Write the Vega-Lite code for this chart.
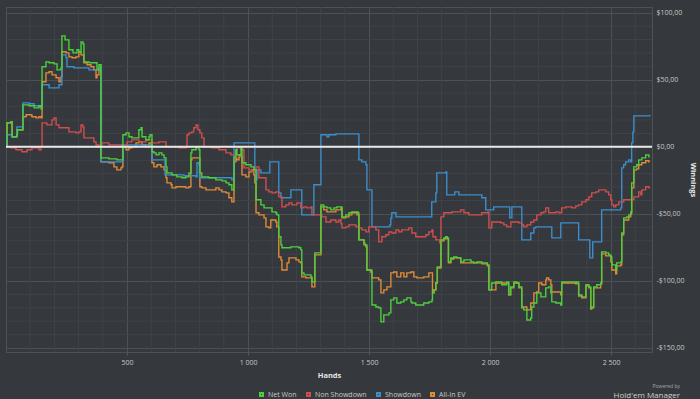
{
"$schema": "https://vega.github.io/schema/vega-lite/v6.json",
"width": 646, "height": 345,
"autosize": "none",
"padding": {"left": 6, "top": 7, "right": 48, "bottom": 47},
"background": "#35383c",
"config": {"view": {"stroke": "#4e5256", "fill": "#35383c"}, "font": "Open Sans", "axis": {"labelOverlap": false}},
"title": {"text": "Powered by", "subtitle": "Hold'em Manager", "orient": "bottom", "anchor": "end", "frame": "group", "fontSize": 5, "fontWeight": "normal", "color": "#a8a8a8", "subtitleFontSize": 8, "subtitleColor": "#d0d0d0", "subtitlePadding": 3, "dx": 28, "offset": 4, "dy": -20},
"datasets": {
"gx": [{"g":100},{"g":200},{"g":300},{"g":400},{"g":600},{"g":700},{"g":800},{"g":900},{"g":1100},{"g":1200},{"g":1300},{"g":1400},{"g":1600},{"g":1700},{"g":1800},{"g":1900},{"g":2100},{"g":2200},{"g":2300},{"g":2400},{"g":2600}],
"gy": [{"g":-140},{"g":-130},{"g":-120},{"g":-110},{"g":-90},{"g":-80},{"g":-70},{"g":-60},{"g":-40},{"g":-30},{"g":-20},{"g":-10},{"g":10},{"g":20},{"g":30},{"g":40},{"g":60},{"g":70},{"g":80},{"g":90}],
"aiev": [{"h":0,"v":0},{"h":4,"v":17.9},{"h":21,"v":18.7},{"h":25,"v":7.5},{"h":45,"v":9.0},{"h":47,"v":12.7},{"h":66,"v":12.7},{"h":70,"v":22.4},{"h":83,"v":23.9},{"h":107,"v":22.4},{"h":124,"v":21.6},{"h":136,"v":22.4},{"h":145,"v":21.6},{"h":149,"v":48.5},{"h":165,"v":55.2},{"h":178,"v":56.0},{"h":190,"v":53.7},{"h":207,"v":51.5},{"h":219,"v":48.5},{"h":227,"v":52.2},{"h":231,"v":70.9},{"h":248,"v":70.1},{"h":260,"v":67.1},{"h":273,"v":66.4},{"h":289,"v":67.1},{"h":301,"v":70.9},{"h":310,"v":68.6},{"h":322,"v":62.7},{"h":335,"v":61.2},{"h":351,"v":59.7},{"h":363,"v":57.4},{"h":372,"v":51.5},{"h":376,"v":53.7},{"h":384,"v":57.4},{"h":390,"v":59.7},{"h":392,"v":-11.2},{"h":425,"v":-11.9},{"h":446,"v":-14.9},{"h":458,"v":-17.2},{"h":475,"v":-15.7},{"h":479,"v":-14.9},{"h":483,"v":0},{"h":496,"v":-2.2},{"h":508,"v":-0.7},{"h":520,"v":0},{"h":537,"v":3.0},{"h":549,"v":3.7},{"h":562,"v":1.5},{"h":578,"v":0},{"h":591,"v":3.0},{"h":599,"v":1.5},{"h":603,"v":-11.9},{"h":611,"v":-14.9},{"h":624,"v":-13.4},{"h":640,"v":-14.9},{"h":653,"v":-17.2},{"h":661,"v":-23.1},{"h":665,"v":-26.9},{"h":682,"v":-28.3},{"h":686,"v":-30.6},{"h":702,"v":-29.8},{"h":743,"v":-30.6},{"h":756,"v":-29.8},{"h":764,"v":-9.7},{"h":768,"v":-8.2},{"h":801,"v":-29.8},{"h":809,"v":-30.6},{"h":826,"v":-32.1},{"h":867,"v":-30.6},{"h":880,"v":-32.1},{"h":892,"v":-33.6},{"h":909,"v":-34.3},{"h":921,"v":-38.0},{"h":933,"v":-41.0},{"h":942,"v":-11.2},{"h":950,"v":-8.2},{"h":954,"v":-9.7},{"h":963,"v":-6.0},{"h":971,"v":-7.5},{"h":975,"v":-20.9},{"h":991,"v":-22.4},{"h":1004,"v":-18.7},{"h":1016,"v":-17.2},{"h":1024,"v":-20.9},{"h":1028,"v":-26.9},{"h":1033,"v":-49.2},{"h":1045,"v":-50.7},{"h":1066,"v":-53.0},{"h":1074,"v":-59.7},{"h":1086,"v":-60.4},{"h":1094,"v":-54.5},{"h":1115,"v":-56.0},{"h":1119,"v":-59.7},{"h":1127,"v":-82.1},{"h":1136,"v":-84.3},{"h":1140,"v":-91.8},{"h":1161,"v":-86.5},{"h":1169,"v":-82.8},{"h":1198,"v":-84.3},{"h":1210,"v":-85.8},{"h":1218,"v":-86.5},{"h":1222,"v":-97.0},{"h":1239,"v":-97.7},{"h":1264,"v":-104.4},{"h":1276,"v":-80.6},{"h":1301,"v":-44.8},{"h":1313,"v":-47.0},{"h":1326,"v":-48.5},{"h":1363,"v":-47.0},{"h":1384,"v":-45.5},{"h":1388,"v":-53.0},{"h":1404,"v":-52.2},{"h":1417,"v":-50.7},{"h":1429,"v":-49.2},{"h":1450,"v":-50.7},{"h":1458,"v":-69.4},{"h":1479,"v":-73.1},{"h":1487,"v":-74.6},{"h":1491,"v":-91.8},{"h":1507,"v":-93.3},{"h":1512,"v":-97.7},{"h":1540,"v":-99.2},{"h":1549,"v":-108.9},{"h":1561,"v":-106.7},{"h":1574,"v":-104.4},{"h":1590,"v":-94.0},{"h":1602,"v":-93.3},{"h":1615,"v":-97.0},{"h":1631,"v":-94.0},{"h":1644,"v":-97.0},{"h":1656,"v":-94.0},{"h":1673,"v":-93.3},{"h":1685,"v":-97.0},{"h":1698,"v":-97.7},{"h":1726,"v":-97.0},{"h":1747,"v":-94.0},{"h":1762,"v":-108.9},{"h":1768,"v":-106.7},{"h":1776,"v":-101.5},{"h":1782,"v":-90.3},{"h":1797,"v":-70.1},{"h":1809,"v":-68.6},{"h":1817,"v":-67.9},{"h":1823,"v":-68.6},{"h":1828,"v":-86.5},{"h":1838,"v":-83.6},{"h":1850,"v":-82.8},{"h":1879,"v":-86.5},{"h":1966,"v":-87.3},{"h":1989,"v":-88.8},{"h":1995,"v":-106.7},{"h":2024,"v":-101.5},{"h":2077,"v":-110.4},{"h":2085,"v":-105.2},{"h":2098,"v":-101.5},{"h":2119,"v":-105.2},{"h":2131,"v":-119.4},{"h":2152,"v":-121.6},{"h":2168,"v":-116.4},{"h":2181,"v":-108.9},{"h":2193,"v":-108.2},{"h":2201,"v":-101.5},{"h":2214,"v":-102.9},{"h":2230,"v":-99.2},{"h":2234,"v":-97.7},{"h":2242,"v":-99.2},{"h":2251,"v":-102.9},{"h":2255,"v":-108.2},{"h":2292,"v":-110.4},{"h":2296,"v":-101.5},{"h":2354,"v":-102.2},{"h":2366,"v":-111.2},{"h":2379,"v":-112.6},{"h":2396,"v":-103.7},{"h":2408,"v":-105.2},{"h":2416,"v":-120.9},{"h":2420,"v":-120.1},{"h":2428,"v":-105.2},{"h":2457,"v":-102.2},{"h":2461,"v":-79.8},{"h":2478,"v":-81.3},{"h":2499,"v":-85.8},{"h":2503,"v":-91.8},{"h":2519,"v":-94.7},{"h":2523,"v":-88.8},{"h":2540,"v":-88.0},{"h":2544,"v":-65.6},{"h":2552,"v":-54.5},{"h":2573,"v":-52.2},{"h":2581,"v":-50.0},{"h":2585,"v":-30.6},{"h":2594,"v":-17.2},{"h":2606,"v":-16.4},{"h":2614,"v":-13.4},{"h":2627,"v":-11.9},{"h":2643,"v":-10.4},{"h":2656,"v":-11.2},{"h":2660,"v":-11.2}],
"sd": [{"h":0,"v":0},{"h":4,"v":9.0},{"h":25,"v":7.5},{"h":45,"v":14.9},{"h":70,"v":32.8},{"h":95,"v":32.1},{"h":116,"v":30.6},{"h":136,"v":29.8},{"h":149,"v":46.3},{"h":178,"v":44.0},{"h":219,"v":46.3},{"h":231,"v":68.6},{"h":248,"v":66.4},{"h":252,"v":59.7},{"h":281,"v":58.9},{"h":343,"v":57.4},{"h":384,"v":58.9},{"h":390,"v":61.2},{"h":392,"v":-11.2},{"h":483,"v":1.5},{"h":603,"v":-9.7},{"h":657,"v":-20.9},{"h":735,"v":-21.6},{"h":785,"v":-22.4},{"h":789,"v":-11.9},{"h":797,"v":-13.4},{"h":799,"v":-23.1},{"h":933,"v":-24.6},{"h":942,"v":3.0},{"h":1028,"v":-17.2},{"h":1033,"v":-24.6},{"h":1037,"v":-17.2},{"h":1053,"v":-19.4},{"h":1090,"v":-11.2},{"h":1127,"v":-34.3},{"h":1136,"v":-38.0},{"h":1177,"v":-32.1},{"h":1222,"v":-50.7},{"h":1272,"v":-28.3},{"h":1301,"v":9.0},{"h":1326,"v":7.5},{"h":1334,"v":9.0},{"h":1363,"v":9.7},{"h":1458,"v":-9.7},{"h":1470,"v":-11.2},{"h":1487,"v":-13.4},{"h":1491,"v":-32.1},{"h":1512,"v":-59.7},{"h":1586,"v":-58.2},{"h":1590,"v":-53.0},{"h":1594,"v":-49.2},{"h":1611,"v":-52.2},{"h":1759,"v":-41.0},{"h":1776,"v":-34.3},{"h":1780,"v":-19.4},{"h":1817,"v":-18.7},{"h":1821,"v":-35.8},{"h":1854,"v":-33.6},{"h":1871,"v":-35.8},{"h":1966,"v":-38.0},{"h":1982,"v":-47.0},{"h":2015,"v":-44.8},{"h":2081,"v":-53.0},{"h":2090,"v":-44.8},{"h":2131,"v":-69.4},{"h":2168,"v":-64.2},{"h":2181,"v":-60.4},{"h":2189,"v":-59.7},{"h":2255,"v":-67.9},{"h":2292,"v":-56.7},{"h":2366,"v":-69.4},{"h":2412,"v":-82.8},{"h":2424,"v":-70.9},{"h":2461,"v":-47.0},{"h":2540,"v":-45.5},{"h":2544,"v":-15.7},{"h":2552,"v":-13.4},{"h":2560,"v":-11.2},{"h":2573,"v":-9.7},{"h":2581,"v":-11.2},{"h":2585,"v":3.0},{"h":2590,"v":11.2},{"h":2594,"v":23.1},{"h":2660,"v":23.9}],
"nsd": [{"h":0,"v":0},{"h":21,"v":-0.7},{"h":41,"v":-2.2},{"h":66,"v":-3.7},{"h":87,"v":-2.2},{"h":107,"v":-0.7},{"h":136,"v":-2.2},{"h":145,"v":0},{"h":149,"v":17.9},{"h":169,"v":16.4},{"h":190,"v":20.1},{"h":198,"v":21.6},{"h":207,"v":16.4},{"h":219,"v":14.2},{"h":260,"v":11.2},{"h":289,"v":10.4},{"h":301,"v":11.2},{"h":310,"v":16.4},{"h":318,"v":14.9},{"h":322,"v":6.7},{"h":363,"v":3.7},{"h":372,"v":1.5},{"h":384,"v":0},{"h":396,"v":3.0},{"h":425,"v":1.5},{"h":479,"v":0},{"h":500,"v":3.7},{"h":520,"v":5.2},{"h":549,"v":3.7},{"h":578,"v":5.2},{"h":603,"v":3.0},{"h":632,"v":3.7},{"h":661,"v":0},{"h":714,"v":-0.7},{"h":743,"v":0},{"h":748,"v":9.0},{"h":756,"v":10.4},{"h":768,"v":11.2},{"h":776,"v":14.2},{"h":785,"v":16.4},{"h":793,"v":12.7},{"h":801,"v":10.4},{"h":809,"v":6.7},{"h":818,"v":0},{"h":851,"v":-0.7},{"h":880,"v":-2.2},{"h":909,"v":-4.5},{"h":929,"v":-6.0},{"h":950,"v":-2.2},{"h":954,"v":0},{"h":963,"v":-0.7},{"h":971,"v":-2.2},{"h":983,"v":-15.7},{"h":1004,"v":-17.2},{"h":1016,"v":-18.7},{"h":1033,"v":-14.9},{"h":1045,"v":-23.1},{"h":1074,"v":-32.1},{"h":1086,"v":-33.6},{"h":1099,"v":-34.3},{"h":1115,"v":-33.6},{"h":1127,"v":-37.3},{"h":1140,"v":-44.8},{"h":1156,"v":-43.3},{"h":1169,"v":-41.8},{"h":1181,"v":-43.3},{"h":1202,"v":-41.8},{"h":1218,"v":-45.5},{"h":1231,"v":-44.8},{"h":1243,"v":-45.5},{"h":1260,"v":-44.8},{"h":1264,"v":-50.7},{"h":1305,"v":-52.2},{"h":1322,"v":-56.0},{"h":1342,"v":-54.5},{"h":1363,"v":-56.0},{"h":1375,"v":-54.5},{"h":1384,"v":-57.4},{"h":1388,"v":-60.4},{"h":1404,"v":-59.7},{"h":1417,"v":-58.2},{"h":1446,"v":-59.7},{"h":1458,"v":-60.4},{"h":1470,"v":-61.9},{"h":1487,"v":-63.4},{"h":1499,"v":-59.7},{"h":1528,"v":-61.9},{"h":1540,"v":-70.9},{"h":1553,"v":-67.1},{"h":1569,"v":-65.6},{"h":1582,"v":-63.4},{"h":1594,"v":-64.2},{"h":1611,"v":-61.9},{"h":1623,"v":-63.4},{"h":1635,"v":-61.9},{"h":1664,"v":-60.4},{"h":1677,"v":-64.2},{"h":1693,"v":-67.1},{"h":1735,"v":-65.6},{"h":1747,"v":-63.4},{"h":1760,"v":-61.9},{"h":1764,"v":-67.1},{"h":1776,"v":-69.4},{"h":1792,"v":-71.6},{"h":1797,"v":-52.2},{"h":1809,"v":-49.2},{"h":1842,"v":-48.5},{"h":1879,"v":-47.0},{"h":1892,"v":-49.2},{"h":1912,"v":-50.7},{"h":1966,"v":-49.2},{"h":1991,"v":-48.5},{"h":1995,"v":-60.4},{"h":2007,"v":-56.0},{"h":2044,"v":-56.7},{"h":2057,"v":-58.2},{"h":2069,"v":-59.7},{"h":2086,"v":-56.0},{"h":2119,"v":-56.7},{"h":2131,"v":-58.2},{"h":2139,"v":-59.7},{"h":2152,"v":-58.2},{"h":2168,"v":-56.0},{"h":2181,"v":-54.5},{"h":2193,"v":-50.7},{"h":2210,"v":-49.2},{"h":2222,"v":-48.5},{"h":2230,"v":-45.5},{"h":2242,"v":-49.2},{"h":2272,"v":-48.5},{"h":2284,"v":-49.2},{"h":2296,"v":-45.5},{"h":2313,"v":-44.8},{"h":2338,"v":-45.5},{"h":2354,"v":-44.0},{"h":2366,"v":-43.3},{"h":2379,"v":-41.0},{"h":2396,"v":-39.5},{"h":2408,"v":-37.3},{"h":2420,"v":-34.3},{"h":2437,"v":-33.6},{"h":2449,"v":-32.1},{"h":2478,"v":-33.6},{"h":2490,"v":-35.8},{"h":2499,"v":-39.5},{"h":2503,"v":-43.3},{"h":2511,"v":-44.8},{"h":2519,"v":-43.3},{"h":2532,"v":-41.0},{"h":2552,"v":-39.5},{"h":2594,"v":-37.3},{"h":2614,"v":-33.6},{"h":2623,"v":-35.8},{"h":2627,"v":-32.1},{"h":2643,"v":-29.8},{"h":2656,"v":-30.6},{"h":2660,"v":-30.6}],
"nw": [{"h":0,"v":0},{"h":4,"v":17.9},{"h":21,"v":18.7},{"h":25,"v":7.5},{"h":45,"v":9.0},{"h":47,"v":12.7},{"h":66,"v":12.7},{"h":70,"v":31.3},{"h":95,"v":30.6},{"h":116,"v":29.1},{"h":136,"v":30.6},{"h":145,"v":28.3},{"h":149,"v":59.7},{"h":165,"v":63.4},{"h":178,"v":62.7},{"h":198,"v":61.9},{"h":211,"v":57.4},{"h":227,"v":58.9},{"h":231,"v":82.8},{"h":244,"v":79.8},{"h":260,"v":72.4},{"h":277,"v":70.1},{"h":293,"v":72.4},{"h":301,"v":70.9},{"h":310,"v":78.3},{"h":318,"v":76.8},{"h":322,"v":63.4},{"h":343,"v":62.7},{"h":376,"v":57.4},{"h":384,"v":61.2},{"h":392,"v":-8.2},{"h":425,"v":-9.0},{"h":458,"v":-9.7},{"h":483,"v":9.0},{"h":496,"v":10.4},{"h":508,"v":7.5},{"h":520,"v":6.7},{"h":549,"v":12.7},{"h":558,"v":14.2},{"h":562,"v":7.5},{"h":578,"v":5.2},{"h":591,"v":7.5},{"h":595,"v":9.0},{"h":603,"v":-3.7},{"h":611,"v":-4.5},{"h":620,"v":-6.0},{"h":632,"v":-4.5},{"h":644,"v":-6.0},{"h":653,"v":-8.2},{"h":661,"v":-14.9},{"h":665,"v":-19.4},{"h":686,"v":-20.9},{"h":706,"v":-22.4},{"h":727,"v":-23.1},{"h":743,"v":-22.4},{"h":756,"v":-19.4},{"h":764,"v":-4.5},{"h":768,"v":-2.2},{"h":785,"v":-0.7},{"h":789,"v":0},{"h":797,"v":-2.2},{"h":801,"v":-19.4},{"h":809,"v":-22.4},{"h":838,"v":-23.1},{"h":867,"v":-24.6},{"h":892,"v":-25.4},{"h":909,"v":-26.9},{"h":921,"v":-28.3},{"h":933,"v":-32.1},{"h":942,"v":-7.5},{"h":950,"v":-2.2},{"h":954,"v":-6.0},{"h":971,"v":-0.7},{"h":975,"v":-11.9},{"h":991,"v":-13.4},{"h":1012,"v":-14.9},{"h":1024,"v":-17.2},{"h":1033,"v":-39.5},{"h":1053,"v":-43.3},{"h":1066,"v":-45.5},{"h":1099,"v":-48.5},{"h":1115,"v":-49.2},{"h":1119,"v":-50.7},{"h":1127,"v":-67.1},{"h":1136,"v":-73.1},{"h":1140,"v":-75.3},{"h":1177,"v":-74.6},{"h":1210,"v":-75.3},{"h":1218,"v":-76.8},{"h":1222,"v":-94.0},{"h":1231,"v":-95.5},{"h":1260,"v":-97.0},{"h":1264,"v":-100.7},{"h":1276,"v":-79.1},{"h":1301,"v":-43.3},{"h":1313,"v":-44.8},{"h":1326,"v":-45.5},{"h":1342,"v":-47.0},{"h":1355,"v":-45.5},{"h":1367,"v":-44.8},{"h":1388,"v":-52.2},{"h":1404,"v":-50.7},{"h":1417,"v":-49.2},{"h":1429,"v":-48.5},{"h":1454,"v":-49.2},{"h":1458,"v":-69.4},{"h":1479,"v":-71.6},{"h":1483,"v":-73.1},{"h":1491,"v":-91.8},{"h":1512,"v":-117.9},{"h":1528,"v":-119.4},{"h":1540,"v":-120.1},{"h":1549,"v":-130.5},{"h":1561,"v":-125.3},{"h":1582,"v":-123.8},{"h":1590,"v":-114.1},{"h":1602,"v":-112.6},{"h":1615,"v":-116.4},{"h":1631,"v":-115.6},{"h":1644,"v":-114.1},{"h":1656,"v":-112.6},{"h":1673,"v":-115.6},{"h":1677,"v":-116.4},{"h":1693,"v":-117.9},{"h":1726,"v":-116.4},{"h":1747,"v":-115.6},{"h":1760,"v":-114.1},{"h":1762,"v":-108.9},{"h":1768,"v":-106.7},{"h":1776,"v":-101.5},{"h":1782,"v":-89.5},{"h":1797,"v":-69.4},{"h":1809,"v":-67.9},{"h":1817,"v":-67.1},{"h":1823,"v":-67.9},{"h":1828,"v":-85.8},{"h":1838,"v":-82.8},{"h":1850,"v":-82.1},{"h":1863,"v":-82.8},{"h":1879,"v":-85.8},{"h":1892,"v":-84.3},{"h":1921,"v":-85.8},{"h":1933,"v":-86.5},{"h":1945,"v":-85.8},{"h":1966,"v":-86.5},{"h":1989,"v":-88.0},{"h":1995,"v":-106.7},{"h":2007,"v":-101.5},{"h":2024,"v":-100.7},{"h":2048,"v":-102.9},{"h":2069,"v":-100.7},{"h":2077,"v":-110.4},{"h":2085,"v":-104.4},{"h":2098,"v":-100.7},{"h":2110,"v":-101.5},{"h":2119,"v":-104.4},{"h":2131,"v":-120.1},{"h":2139,"v":-121.6},{"h":2152,"v":-129.1},{"h":2168,"v":-127.6},{"h":2172,"v":-119.4},{"h":2181,"v":-116.4},{"h":2193,"v":-108.9},{"h":2210,"v":-111.9},{"h":2230,"v":-105.2},{"h":2242,"v":-104.4},{"h":2251,"v":-108.9},{"h":2255,"v":-115.6},{"h":2272,"v":-116.4},{"h":2292,"v":-117.9},{"h":2296,"v":-100.7},{"h":2354,"v":-101.5},{"h":2358,"v":-100.7},{"h":2366,"v":-110.4},{"h":2379,"v":-111.9},{"h":2396,"v":-102.9},{"h":2408,"v":-104.4},{"h":2416,"v":-120.1},{"h":2420,"v":-119.4},{"h":2428,"v":-104.4},{"h":2441,"v":-102.9},{"h":2457,"v":-101.5},{"h":2461,"v":-78.3},{"h":2478,"v":-79.1},{"h":2490,"v":-80.6},{"h":2499,"v":-82.1},{"h":2503,"v":-88.0},{"h":2519,"v":-91.8},{"h":2523,"v":-86.5},{"h":2540,"v":-85.8},{"h":2544,"v":-64.2},{"h":2552,"v":-53.0},{"h":2565,"v":-52.2},{"h":2573,"v":-50.7},{"h":2581,"v":-48.5},{"h":2585,"v":-26.9},{"h":2594,"v":-14.9},{"h":2606,"v":-13.4},{"h":2614,"v":-9.7},{"h":2627,"v":-8.2},{"h":2643,"v":-6.0},{"h":2656,"v":-7.5},{"h":2660,"v":-7.5}]
},
"layer": [
{"data": {"name": "gx"}, "mark": {"type": "rule", "color": "#3f4347", "strokeWidth": 1},
 "encoding": {"x": {"field": "g", "type": "quantitative", "scale": {"domain": [0, 2669], "nice": false, "zero": false},
    "axis": {"values": [500, 1000, 1500, 2000, 2500],
      "labelExpr": "replace(format(datum.value, ','), ',', ' ')",
      "grid": true, "gridColor": "#4d5155",
      "domain": false, "ticks": true, "tickColor": "#55595d", "tickSize": 3,
      "labelColor": "#c8c8c8", "labelFontSize": 7, "labelPadding": 3, "labelFlush": false,
      "title": "Hands", "titleColor": "#e6e6e6", "titleFontSize": 7.5, "titleFontWeight": "bold", "titlePadding": 6}}}},
{"data": {"name": "gy"}, "mark": {"type": "rule", "color": "#3f4347", "strokeWidth": 1},
 "encoding": {"y": {"field": "g", "type": "quantitative", "scale": {"domain": [-153, 104.3], "nice": false, "zero": false},
    "axis": {"orient": "right", "values": [-150, -100, -50, 0, 50, 100],
      "labelExpr": "(datum.value < 0 ? '-$' : '$') + replace(format(abs(datum.value), '.2f'), '.', ',')",
      "grid": true, "gridColor": "#4d5155",
      "domain": false, "ticks": false, "labelColor": "#c8c8c8", "labelFontSize": 7, "labelPadding": 4, "labelFlush": false,
      "title": "Winnings", "titleColor": "#e6e6e6", "titleFontSize": 7.5, "titleFontWeight": "bold", "titlePadding": 4}}}},
{"data": {"name": "aiev"}, "mark": {"type": "line", "interpolate": "step-after", "strokeWidth": 1.4},
 "encoding": {
  "x": {"field": "h", "type": "quantitative", "scale": {"domain": [0, 2669], "nice": false, "zero": false}},
  "y": {"field": "v", "type": "quantitative", "scale": {"domain": [-153, 104.3], "nice": false, "zero": false}},
  "color": {"datum": "All-In EV", "type": "nominal",
    "scale": {"domain": ["Net Won", "Non Showdown", "Showdown", "All-In EV"], "range": ["#4ccf3c", "#cf4f4f", "#3b8dcc", "#e08a37"]},
    "legend": {"orient": "none", "legendX": 252, "legendY": 384, "direction": "horizontal", "title": null,
      "symbolType": "square", "symbolSize": 9, "symbolStrokeWidth": 2, "labelColor": "#c8c8c8", "labelFontSize": 7,
      "labelOffset": 3, "columnPadding": 6}}
 }},
{"data": {"name": "sd"}, "mark": {"type": "line", "interpolate": "step-after", "strokeWidth": 1.4},
 "encoding": {"x": {"field": "h", "type": "quantitative", "scale": {"domain": [0, 2669], "nice": false, "zero": false}},
  "y": {"field": "v", "type": "quantitative", "scale": {"domain": [-153, 104.3], "nice": false, "zero": false}},
  "color": {"datum": "Showdown", "type": "nominal"}}},
{"data": {"name": "nsd"}, "mark": {"type": "line", "interpolate": "step-after", "strokeWidth": 1.4},
 "encoding": {"x": {"field": "h", "type": "quantitative", "scale": {"domain": [0, 2669], "nice": false, "zero": false}},
  "y": {"field": "v", "type": "quantitative", "scale": {"domain": [-153, 104.3], "nice": false, "zero": false}},
  "color": {"datum": "Non Showdown", "type": "nominal"}}},
{"data": {"name": "nw"}, "mark": {"type": "line", "interpolate": "step-after", "strokeWidth": 1.4},
 "encoding": {"x": {"field": "h", "type": "quantitative", "scale": {"domain": [0, 2669], "nice": false, "zero": false}},
  "y": {"field": "v", "type": "quantitative", "scale": {"domain": [-153, 104.3], "nice": false, "zero": false}},
  "color": {"datum": "Net Won", "type": "nominal"}}},
{"data": {"values": [{}]}, "mark": {"type": "rule", "color": "#e8e8e8", "strokeWidth": 2},
 "encoding": {"y": {"datum": 0, "type": "quantitative", "scale": {"domain": [-153, 104.3], "nice": false, "zero": false}}}}
]
}
